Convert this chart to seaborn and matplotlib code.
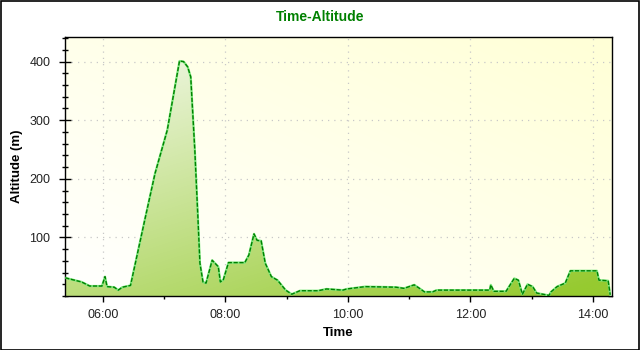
import numpy as np
import pandas as pd
import matplotlib
matplotlib.use("Agg")
import matplotlib.pyplot as plt
from matplotlib.ticker import MultipleLocator
from matplotlib.colors import to_rgb
import seaborn as sns

# ---- data ----
times = ["05:23", "05:39", "05:47", "05:59", "06:02", "06:04", "06:11", "06:15",
         "06:19", "06:27", "06:41", "06:51", "07:03", "07:15", "07:19", "07:23",
         "07:26", "07:30", "07:33", "07:35", "07:38", "07:41", "07:47", "07:53",
         "07:55", "07:58", "08:03", "08:19", "08:23", "08:28", "08:31", "08:35",
         "08:39", "08:45", "08:51", "08:59", "09:05", "09:13", "09:31", "09:39",
         "09:55", "09:59", "10:17", "10:47", "10:55", "11:05", "11:11", "11:15",
         "11:23", "11:27", "11:43", "12:19", "12:20", "12:23", "12:35", "12:43",
         "12:47", "12:51", "12:56", "13:01", "13:05", "13:11", "13:17", "13:19",
         "13:25", "13:33", "13:38", "14:04", "14:06", "14:15", "14:17"]
altitude = [31, 24, 17, 17, 33, 16, 15, 10,
            15, 18, 130, 209, 283, 401, 400, 391,
            374, 249, 135, 56, 24, 22, 61, 50,
            24, 28, 57, 57, 70, 106, 95, 94,
            56, 33, 27, 10, 3, 9, 9, 12,
            10, 12, 16, 15, 13, 19, 12, 7,
            7, 10, 10, 10, 19, 8, 8, 30,
            27, 3, 20, 16, 5, 3, 1, 7,
            16, 22, 43, 43, 27, 26, 2]
x_ticks = ["06:00", "08:00", "10:00", "12:00", "14:00"]
y_ticks = [100, 200, 300, 400]

def to_hours(s):
    h, m = s.split(":")
    return int(h) + int(m) / 60.0

df = pd.DataFrame({"Time": [to_hours(t) for t in times], "Altitude": altitude})

sns.set_theme(style="white")
plt.rcParams["font.family"] = ["Liberation Sans", "DejaVu Sans"]

fig = plt.figure(figsize=(6.4, 3.5), dpi=100)
fig.patch.set_facecolor("white")
ax = fig.add_axes([65 / 640, 54 / 350, 547 / 640, 259 / 350])

xmin, xmax = 5.38, 14.313
ymin, ymax = 0, 442

# background gradient (white bottom-left -> light yellow top-right)
n = 200
gx, gy = np.meshgrid(np.linspace(0, 1, n), np.linspace(0, 1, n))
tb = (gx + gy) / 2
c0, c1 = np.array(to_rgb("#ffffff")), np.array(to_rgb("#ffffd6"))
bg = c0[None, None, :] * (1 - tb[..., None]) + c1[None, None, :] * tb[..., None]
ax.imshow(bg, extent=[xmin, xmax, ymin, ymax], origin="lower", aspect="auto",
          zorder=0.1, interpolation="bilinear")

# area fill gradient (light top-left -> yellow-green bottom-right)
tf = np.clip(0.42 * gx + 0.62 * (1 - gy), 0, 1)
f0, f1 = np.array(to_rgb("#f8fbf4")), np.array(to_rgb("#96ca30"))
fg = f0[None, None, :] * (1 - tf[..., None]) + f1[None, None, :] * tf[..., None]
poly = ax.fill_between(df["Time"], df["Altitude"], 0, color="none", zorder=1)
im = ax.imshow(fg, extent=[xmin, xmax, ymin, ymax], origin="lower", aspect="auto",
               zorder=1, interpolation="bilinear")
im.set_clip_path(poly.get_paths()[0], transform=ax.transData)

# lines
sns.lineplot(data=df, x="Time", y="Altitude", ax=ax, color="#7de87d", linewidth=1.6,
             estimator=None, sort=False, zorder=3)
sns.lineplot(data=df, x="Time", y="Altitude", ax=ax, color="#008000", linewidth=1.0,
             estimator=None, sort=False, zorder=4)
ax.lines[-1].set_linestyle((0, (3, 1.2)))

ax.set_xlim(xmin, xmax)
ax.set_ylim(ymin, ymax)

ax.set_xticks([to_hours(t) for t in x_ticks])
ax.set_xticklabels(x_ticks)
ax.xaxis.set_minor_locator(MultipleLocator(1))
ax.set_yticks(y_ticks)
ax.yaxis.set_minor_locator(MultipleLocator(20))

ax.set_axisbelow(True)
ax.grid(True, which="major", linestyle=(0, (1, 4)), color="#c8c8c8", linewidth=0.9)

for sp in ax.spines.values():
    sp.set_color("black")
    sp.set_linewidth(1.0)

ax.tick_params(axis="x", which="major", direction="inout", length=8, width=1,
               color="black", labelsize=9, labelcolor="#222222", pad=5, bottom=True)
ax.tick_params(axis="x", which="minor", direction="inout", length=5, width=1,
               color="black", bottom=True)
ax.tick_params(axis="y", which="major", direction="inout", length=9, width=1,
               color="black", labelsize=9, labelcolor="#222222", pad=6, left=True)
ax.tick_params(axis="y", which="minor", direction="inout", length=5, width=1,
               color="black", left=True)

# inward ticks on top and right
top = ax.secondary_xaxis("top")
top.set_xticks([to_hours(t) for t in x_ticks])
top.xaxis.set_minor_locator(MultipleLocator(1))
top.tick_params(which="major", direction="in", length=5, width=1, color="black", labeltop=False)
top.tick_params(which="minor", direction="in", length=3, width=1, color="black")
top.spines["top"].set_visible(False)
right = ax.secondary_yaxis("right")
right.set_yticks(y_ticks)
right.yaxis.set_minor_locator(MultipleLocator(20))
right.tick_params(which="major", direction="in", length=5, width=1, color="black", labelright=False)
right.tick_params(which="minor", direction="in", length=3, width=1, color="black")
right.spines["right"].set_visible(False)

ax.set_xlabel("Time", fontsize=9.5, fontweight="bold", color="black")
ax.set_ylabel("Altitude (m)", fontsize=9.5, fontweight="bold", color="black")
ax.xaxis.set_label_coords(0.5, -0.12)
ax.yaxis.set_label_coords(-0.076, 0.5)

fig.text(0.5, 1 - 17 / 350, "Time-Altitude", ha="center", va="center",
         fontsize=10, fontweight="bold", color="#008000")

fig.patches.append(plt.Rectangle((0.5 / 640, 0.5 / 350), 638.5 / 640, 348.5 / 350,
                                 transform=fig.transFigure, fill=False,
                                 edgecolor="black", linewidth=1.2))

fig.savefig("out.png", dpi=100)
